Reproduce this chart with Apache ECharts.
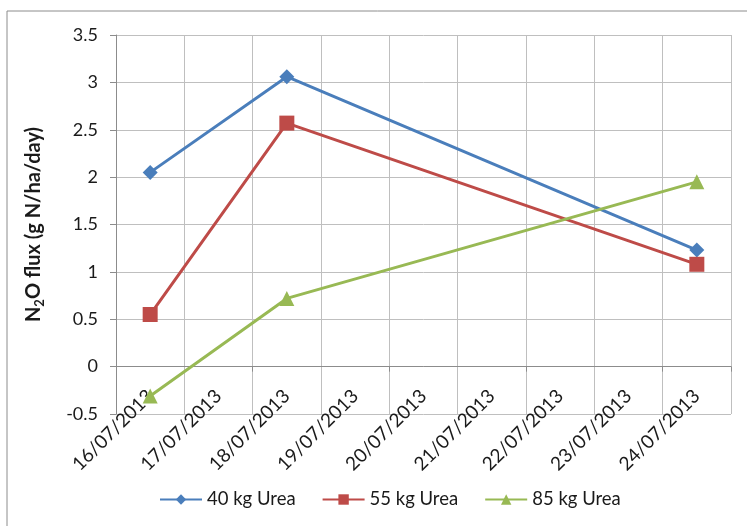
<!DOCTYPE html>
<html>
<head>
<meta charset="utf-8">
<script src="https://cdn.jsdelivr.net/npm/echarts@6/dist/echarts.min.js"></script>
<style>
  html, body { margin: 0; padding: 0; background: #fff; }
  #chart { width: 747px; height: 526px; }
</style>
</head>
<body>
<div id="chart"></div>
<script>
// Sampling days shown on the date axis
const dates = ['16/07/2013', '17/07/2013', '18/07/2013', '19/07/2013', '20/07/2013',
               '21/07/2013', '22/07/2013', '23/07/2013', '24/07/2013'];

// N2O flux (g N/ha/day); null where no measurement was taken
const urea40 = [2.05, null, 3.06, null, null, null, null, null, 1.23];
const urea55 = [0.55, null, 2.57, null, null, null, null, null, 1.08];
const urea85 = [-0.31, null, 0.72, null, null, null, null, null, 1.95];

const seriesNames = ['40 kg Urea', '55 kg Urea', '85 kg Urea'];
const seriesColors = ['#4A7EBB', '#BE4B48', '#98B954'];

const FONT = 'Lato, "Open Sans", "Liberation Sans", sans-serif';
const GRID_COLOR = '#BFBFBF';
const AXIS_COLOR = '#8C8C8C';
const TEXT_COLOR = '#1a1a1a';

const chart = echarts.init(document.getElementById('chart'), null, { renderer: 'canvas' });

function lineSeries(name, data, color, symbol, size) {
  return {
    name: name,
    type: 'line',
    xAxisIndex: 0,
    data: data,
    connectNulls: true,
    symbol: symbol,
    symbolSize: size,
    lineStyle: { color: color, width: 3 },
    itemStyle: { color: color },
    emphasis: { disabled: true }
  };
}

chart.setOption({
  animation: false,
  backgroundColor: '#ffffff',
  textStyle: { fontFamily: FONT },
  graphic: [{
    type: 'rect',
    shape: { x: 7, y: 11, width: 800, height: 600 },
    style: { fill: 'none', stroke: AXIS_COLOR, lineWidth: 1 },
    silent: true
  }],
  grid: { left: 116, right: 16, top: 35, bottom: 112 },
  legend: {
    bottom: 12,
    left: 154,
    itemWidth: 42,
    itemHeight: 13,
    itemGap: 26,
    textStyle: { fontFamily: FONT, fontSize: 18.5, color: TEXT_COLOR },
    data: seriesNames
  },
  xAxis: [{
    // date labels along the bottom of the plot, with vertical gridlines
    type: 'category',
    data: dates,
    boundaryGap: true,
    position: 'bottom',
    axisLine: { show: false, onZero: false },
    axisTick: { show: false },
    axisLabel: {
      rotate: 45,
      margin: -21,
      interval: 0,
      fontFamily: FONT,
      fontSize: 19,
      color: TEXT_COLOR
    },
    splitLine: { show: true, lineStyle: { color: GRID_COLOR, width: 1 } }
  }, {
    // horizontal axis line crossing at zero, with its tick marks
    type: 'category',
    data: dates,
    boundaryGap: true,
    position: 'bottom',
    axisLine: { show: true, onZero: true, lineStyle: { color: AXIS_COLOR, width: 1 } },
    axisTick: { show: true, length: 5, lineStyle: { color: AXIS_COLOR } },
    axisLabel: { show: false },
    splitLine: { show: false }
  }],
  yAxis: {
    type: 'value',
    min: -0.5,
    max: 3.5,
    interval: 0.5,
    name: '{a|N}{s|2}{a|O flux (g N/ha/day)}',
    nameLocation: 'middle',
    nameGap: 70,
    nameRotate: 90,
    nameTextStyle: {
      rich: {
        a: { fontFamily: FONT, fontSize: 20, fontWeight: 'bold', color: TEXT_COLOR },
        s: { fontFamily: FONT, fontSize: 13, fontWeight: 'bold', color: TEXT_COLOR, padding: [11, 0, 0, 0] }
      }
    },
    axisLine: { show: true, lineStyle: { color: AXIS_COLOR, width: 1 } },
    axisTick: { show: true, length: 6, lineStyle: { color: AXIS_COLOR } },
    axisLabel: { margin: 18, fontFamily: FONT, fontSize: 18, color: TEXT_COLOR },
    splitLine: { show: true, lineStyle: { color: GRID_COLOR, width: 1 } }
  },
  series: [
    lineSeries(seriesNames[0], urea40, seriesColors[0], 'diamond', 15),
    lineSeries(seriesNames[1], urea55, seriesColors[1], 'rect', 15),
    lineSeries(seriesNames[2], urea85, seriesColors[2], 'triangle', 15)
  ]
});
</script>
</body>
</html>
